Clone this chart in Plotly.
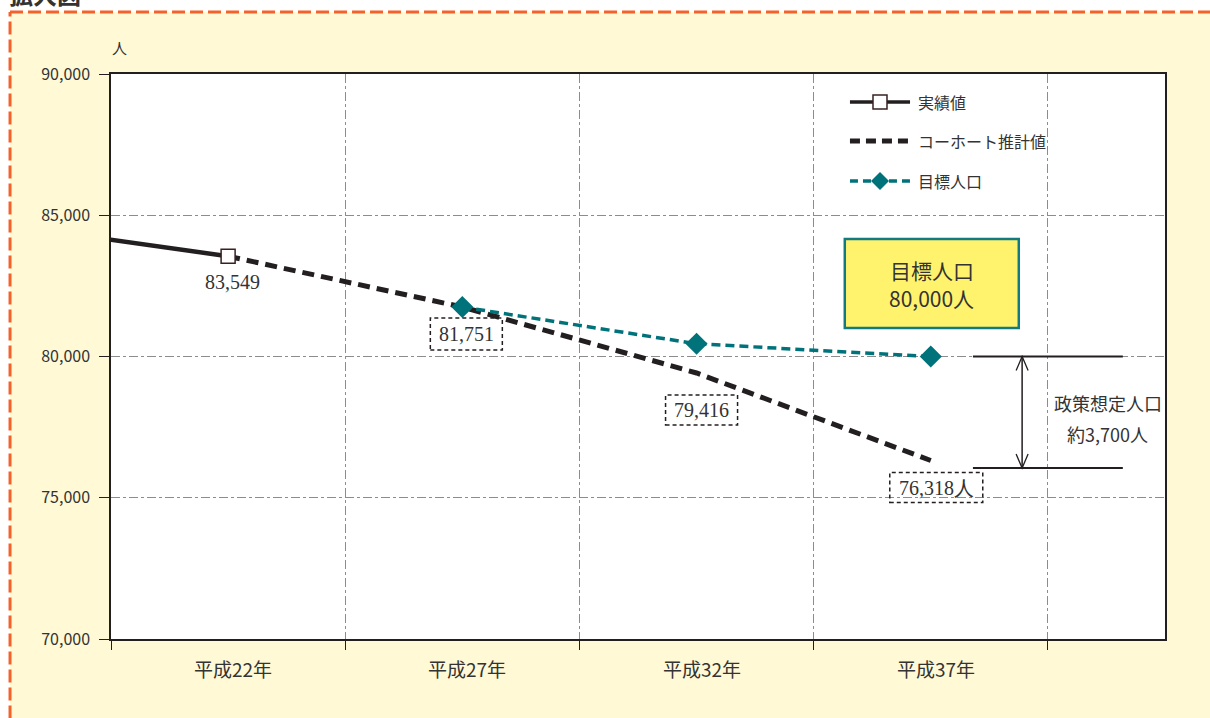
import plotly.graph_objects as go

# ---------------- data ----------------
categories = ["平成22年", "平成27年", "平成32年", "平成37年"]
prev_category = "平成17年"
actual_cats = ["平成17年", "平成22年"]
actual_values = [84720, 83549]
cohort_values = [83549, 81751, 79416, 76318]
target_values = [None, 81751, 80450, 80000]
cohort_labels = ["83,549", "81,751", "79,416", "76,318人"]
legend_names = ["実績値", "コーホート推計値", "目標人口"]
target_box_text = ["目標人口", "80,000人"]
policy_text = ["政策想定人口", "約3,700人"]
policy_top = 80000
policy_bottom = 76050
y_ticks = [70000, 75000, 80000, 85000, 90000]

all_cats = [prev_category] + categories
pos = {c: i - 1 for i, c in enumerate(all_cats)}
xc = [pos[c] for c in categories]
xa = [pos[c] for c in actual_cats]

BG = "#FFF9D6"
ORANGE = "#F4622A"
TEAL = "#00727A"
DARK = "#231F20"
TXT = "#333333"
GRID = "#8C8C8C"
JP = "Noto Sans CJK JP"
SERIF = "Liberation Serif"

fig = go.Figure()

# actual (solid)
fig.add_trace(go.Scatter(x=xa, y=actual_values, mode="lines",
                         line=dict(color=DARK, width=4.5), showlegend=False))
# cohort (dashed)
fig.add_trace(go.Scatter(x=xc, y=cohort_values, mode="lines",
                         line=dict(color=DARK, width=5, dash="12px,7px"),
                         showlegend=False))
# actual marker
fig.add_trace(go.Scatter(x=[xa[-1]], y=[actual_values[-1]], mode="markers",
                         marker=dict(symbol="square", size=14, color="white",
                                     line=dict(color="#3a2020", width=1.5)),
                         showlegend=False))
# target
tx = [x for x, v in zip(xc, target_values) if v is not None]
ty = [v for v in target_values if v is not None]
fig.add_trace(go.Scatter(x=tx, y=ty, mode="lines+markers",
                         line=dict(color=TEAL, width=3.5, dash="9px,5px"),
                         marker=dict(symbol="diamond", size=17, color=TEAL),
                         showlegend=False))

shapes = []
annotations = []

# page frame: white strips + orange dashed border
shapes.append(dict(type="rect", xref="paper", yref="paper", x0=-0.2, x1=1.2,
                   y0=1.1097, y1=1.3, fillcolor="white", line=dict(width=0), layer="below"))
shapes.append(dict(type="rect", xref="paper", yref="paper", x0=-0.2, x1=-0.0958,
                   y0=-0.3, y1=1.3, fillcolor="white", line=dict(width=0), layer="below"))
shapes.append(dict(type="line", xref="paper", yref="paper", x0=-0.0958, x1=1.2,
                   y0=1.1097, y1=1.1097, line=dict(color=ORANGE, width=3, dash="13px,5px")))
shapes.append(dict(type="line", xref="paper", yref="paper", x0=-0.0958, x1=-0.0958,
                   y0=-0.3, y1=1.1097, line=dict(color=ORANGE, width=3, dash="13px,5px")))

# title partly cut off at top
annotations.append(dict(text="<b>拡大図</b>", xref="paper", yref="paper",
                        x=-0.0985, y=1.108, xanchor="left", yanchor="bottom",
                        showarrow=False, font=dict(family=JP, size=24, color=TXT)))

# y unit
annotations.append(dict(text="人", xref="paper", yref="paper", x=0.0085, y=1.047,
                        xanchor="center", yanchor="middle", showarrow=False,
                        font=dict(family=JP, size=15, color=TXT)))

# x category labels
for c in categories:
    annotations.append(dict(text=c, xref="x", yref="paper", x=pos[c], y=-0.052,
                            xanchor="center", yanchor="middle", xshift=5, showarrow=False,
                            font=dict(family=JP, size=19, color=TXT)))

# data labels
annotations.append(dict(text=cohort_labels[0], xref="x", yref="y", x=xc[0], y=cohort_values[0],
                        xshift=4, yshift=-26, showarrow=False,
                        font=dict(family=SERIF, size=20, color=TXT)))
box_specs = [  # (dx0, dx1, dy0, dy1) pixel offsets of dashed boxes
    (-32, 40, -43, -11),
    (-31, 41, -52, -22),
    (-41, 52, -42, -12),
]
for i, (dx0, dx1, dy0, dy1) in enumerate(box_specs, start=1):
    shapes.append(dict(type="rect", xref="x", yref="y", xsizemode="pixel", ysizemode="pixel",
                       xanchor=xc[i], yanchor=cohort_values[i], x0=dx0, x1=dx1, y0=dy0, y1=dy1,
                       line=dict(color=DARK, width=1.5, dash="4px,3px"), fillcolor="rgba(0,0,0,0)"))
    annotations.append(dict(text=cohort_labels[i], xref="x", yref="y", x=xc[i], y=cohort_values[i],
                            xshift=(dx0 + dx1) / 2, yshift=(dy0 + dy1) / 2, showarrow=False,
                            font=dict(family=SERIF, size=20, color=TXT)))

# target population box
shapes.append(dict(type="rect", xref="x", yref="y", xsizemode="pixel", ysizemode="pixel",
                   xanchor=xc[3], yanchor=82570, x0=-86, x1=88, y0=-44, y1=45,
                   fillcolor="#FFF36E", line=dict(color="#137A80", width=2.5)))
for k, t in enumerate(target_box_text):
    annotations.append(dict(text=t, xref="x", yref="y", x=xc[3], y=82570,
                            xshift=1, yshift=14 - 28 * k, showarrow=False,
                            font=dict(family=JP, size=21, color=TXT)))

# policy bracket
for yv in (policy_top, policy_bottom):
    shapes.append(dict(type="line", xref="x", yref="y", x0=3.18, x1=3.82, y0=yv, y1=yv,
                       line=dict(color=DARK, width=2)))
shapes.append(dict(type="line", xref="x", yref="y", x0=3.39, x1=3.39, y0=policy_top, y1=policy_bottom,
                   line=dict(color=DARK, width=1.5)))
shapes.append(dict(type="path", xref="x", yref="y", xsizemode="pixel", ysizemode="pixel",
                   xanchor=3.39, yanchor=policy_top, path="M-6,-14 L0,0 L6,-14",
                   line=dict(color=DARK, width=1.3)))
shapes.append(dict(type="path", xref="x", yref="y", xsizemode="pixel", ysizemode="pixel",
                   xanchor=3.39, yanchor=policy_bottom, path="M-6,14 L0,0 L6,14",
                   line=dict(color=DARK, width=1.3)))
for k, t in enumerate(policy_text):
    annotations.append(dict(text=t, xref="x", yref="y", x=3.755, y=policy_top,
                            yshift=-46 - 31 * k, showarrow=False,
                            font=dict(family=JP, size=18, color=TXT)))

# manual legend
ly = [0.9504, 0.8814, 0.8106]
lx0, lx1, lxm, ltx = 0.7011, 0.7581, 0.7296, 0.7635
shapes.append(dict(type="line", xref="paper", yref="paper", x0=lx0, x1=lx1, y0=ly[0], y1=ly[0],
                   line=dict(color=DARK, width=3.5)))
shapes.append(dict(type="rect", xref="paper", yref="paper", xsizemode="pixel", ysizemode="pixel",
                   xanchor=lxm, yanchor=ly[0], x0=-7, x1=7, y0=-7, y1=7,
                   fillcolor="white", line=dict(color="#3a2020", width=1.5)))
shapes.append(dict(type="line", xref="paper", yref="paper", x0=lx0, x1=lx1, y0=ly[1], y1=ly[1],
                   line=dict(color=DARK, width=5, dash="10px,6px")))
shapes.append(dict(type="line", xref="paper", yref="paper", x0=lx0, x1=lx1, y0=ly[2], y1=ly[2],
                   line=dict(color=TEAL, width=3.5, dash="8px,5px")))
shapes.append(dict(type="path", xref="paper", yref="paper", xsizemode="pixel", ysizemode="pixel",
                   xanchor=lxm, yanchor=ly[2], path="M-9,0 L0,9 L9,0 L0,-9 Z",
                   fillcolor=TEAL, line=dict(color=TEAL, width=0)))
for name, yy in zip(legend_names, ly):
    annotations.append(dict(text=name, xref="paper", yref="paper", x=ltx, y=yy, xanchor="left",
                            yanchor="middle", showarrow=False,
                            font=dict(family=JP, size=16, color=TXT)))

fig.update_layout(
    width=1210, height=718,
    margin=dict(l=111, r=45, t=74, b=79),
    paper_bgcolor=BG, plot_bgcolor="white",
    shapes=shapes, annotations=annotations,
    showlegend=False,
    xaxis=dict(range=[-0.5, 4.0], tickvals=[-0.5, 0.5, 1.5, 2.5, 3.5],
               ticktext=["", "", "", "", ""], ticks="outside", ticklen=9, tickcolor=DARK,
               showgrid=True, gridcolor=GRID, griddash="dashdot", gridwidth=1,
               showline=True, linecolor=DARK, linewidth=1.5, mirror=True, zeroline=False,
               fixedrange=True),
    yaxis=dict(range=[70000, 90000], tickvals=y_ticks, tickformat=",", ticks="outside",
               ticklen=10, tickcolor=DARK, showgrid=True, gridcolor=GRID, griddash="dashdot",
               gridwidth=1, showline=True, linecolor=DARK, linewidth=1.5, mirror=True,
               zeroline=False, tickfont=dict(family=JP, size=16, color=TXT), ticklabelstandoff=6),
)

fig.write_html("out.html")
